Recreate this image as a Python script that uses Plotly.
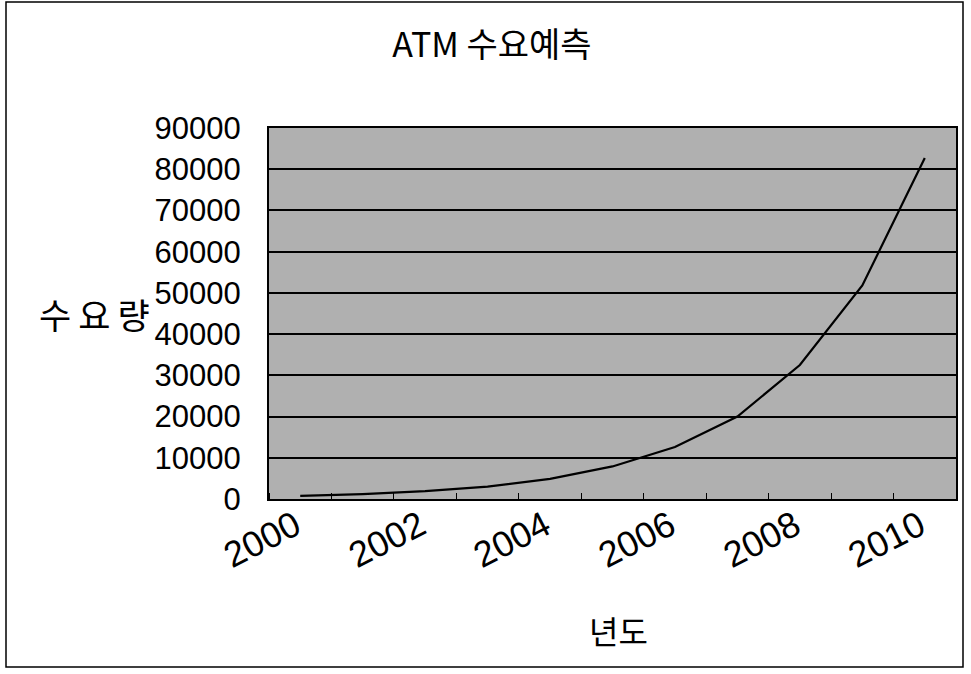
import plotly.graph_objects as go

years = [2000, 2001, 2002, 2003, 2004, 2005, 2006, 2007, 2008, 2009, 2010]
demand = [750, 1200, 1900, 3000, 4900, 7900, 12600, 20000, 32500, 51800, 82700]
x_tick_labels = [2000, 2002, 2004, 2006, 2008, 2010]
y_tick_values = [0, 10000, 20000, 30000, 40000, 50000, 60000, 70000, 80000, 90000]

title_text = "ATM 수요예측"
y_title = "수\u2009요\u2009량"
x_title = "년도"

W, H = 971, 674
L, R, T, B = 269, 15, 128, 175
pw = W - L - R
ph = H - T - B

FONT = "Liberation Sans, Arial, Noto Sans CJK KR, sans-serif"
KFONT = "Noto Sans CJK KR, Liberation Sans, sans-serif"

fig = go.Figure()
fig.add_trace(go.Scatter(
    x=years, y=demand, mode="lines",
    line=dict(color="black", width=2.2),
    showlegend=False, hoverinfo="skip",
))

fig.update_layout(
    width=W, height=H,
    margin=dict(l=L, r=R, t=T, b=B),
    paper_bgcolor="white",
    plot_bgcolor="#b0b0b0",
    font=dict(family=FONT, color="black", size=29),
    title=dict(text=title_text, x=(492) / W, xref="container", xanchor="center",
               y=1 - 45 / H, yref="container", yanchor="middle",
               font=dict(family=KFONT, size=34, color="black")),
)

fig.update_xaxes(
    range=[1999.5, 2010.5],
    tickmode="array", tickvals=x_tick_labels, ticktext=[str(v) for v in x_tick_labels],
    tickangle=-27, ticks="", showgrid=False, zeroline=False,
    showline=True, linecolor="black", linewidth=2, mirror=True,
    tickfont=dict(family=FONT, size=36),
    ticklabelstandoff=-10, ticklabelshift=-5,
    minor=dict(tick0=1999.5, dtick=1, ticks="inside", ticklen=6,
               tickcolor="black", tickwidth=1, showgrid=False),
)
fig.update_yaxes(
    range=[0, 90000],
    tickmode="array", tickvals=y_tick_values, ticktext=[str(v) for v in y_tick_values],
    ticks="inside", ticklen=4, tickcolor="black",
    showgrid=True, gridcolor="black", gridwidth=1.5, zeroline=False,
    showline=True, linecolor="black", linewidth=2, mirror=True,
    tickfont=dict(family=FONT, size=31),
    ticklabelstandoff=20,
)

fig.add_annotation(
    text=y_title, xref="paper", yref="paper",
    x=(152 - L) / pw, y=(H - B - 313) / ph,
    xanchor="right", yanchor="middle", showarrow=False,
    font=dict(family=KFONT, size=35, color="black"),
)
fig.add_annotation(
    text=x_title, xref="paper", yref="paper",
    x=(618 - L) / pw, y=(H - B - 630) / ph,
    xanchor="center", yanchor="middle", showarrow=False,
    font=dict(family=KFONT, size=32, color="black"),
)

# outer frame
fig.add_shape(
    type="rect", xref="paper", yref="paper",
    x0=(6 - L) / pw, x1=(963 - L) / pw,
    y0=(H - B - 667) / ph, y1=(H - B - 2) / ph,
    line=dict(color="black", width=1.5), fillcolor="rgba(0,0,0,0)",
    layer="below",
)

fig.write_html("out.html")
